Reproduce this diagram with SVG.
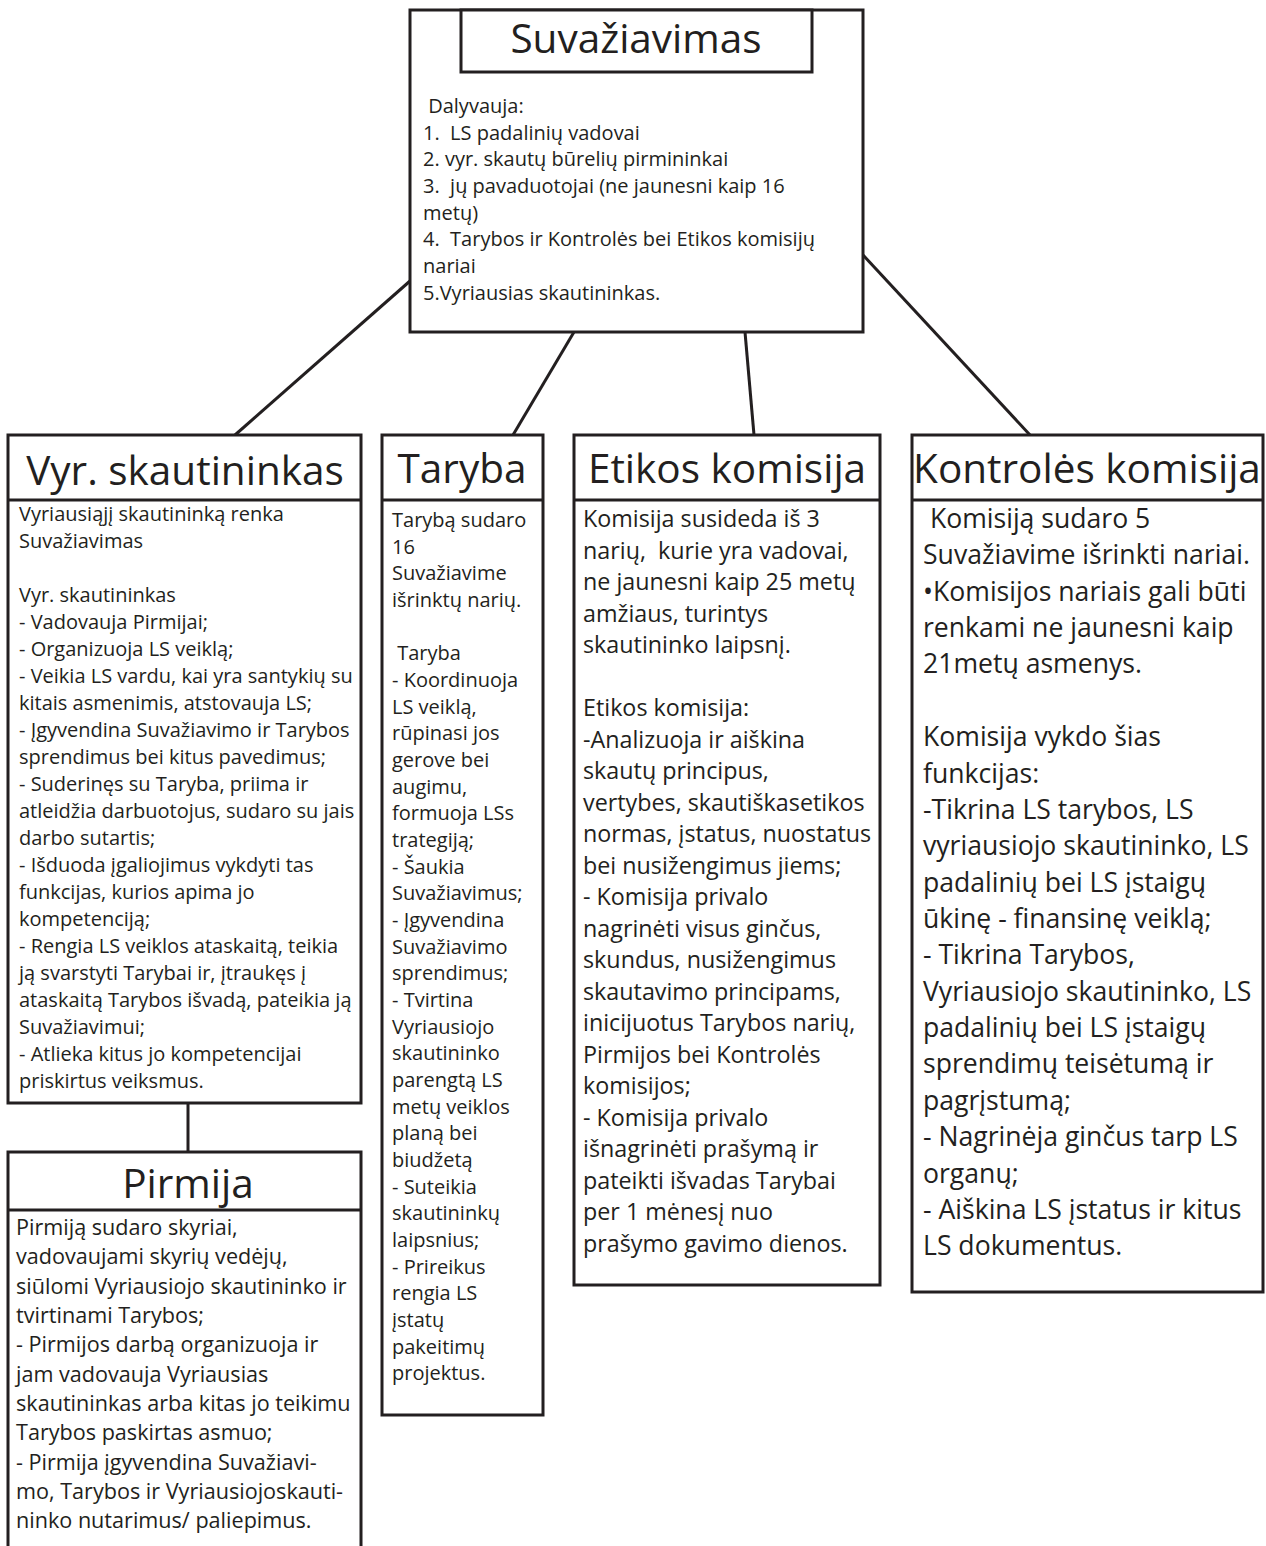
<svg xmlns="http://www.w3.org/2000/svg" width="1266" height="1546" viewBox="0 0 1266 1546">
<style>
.box{fill:#fff;stroke:#231f20;stroke-width:3}
.ln{fill:none;stroke:#231f20;stroke-width:3}
.t{font-family:"Open Sans","Liberation Sans",sans-serif;fill:#231f20}
.title{font-size:40.5px;text-anchor:middle}
.b20{font-size:20px}
.b21{font-size:21.6px}
.b23{font-size:23.3px}
.b26{font-size:26.6px}
</style>
<rect width="1266" height="1546" fill="#fff"/>
<g id="connectors">
<line class="ln" x1="410" y1="281" x2="235" y2="435"/>
<line class="ln" x1="574" y1="332" x2="513" y2="435"/>
<line class="ln" x1="745" y1="332" x2="754" y2="435"/>
<line class="ln" x1="863" y1="255" x2="1030" y2="435"/>
<line class="ln" x1="188" y1="1103" x2="188" y2="1152"/>
</g>
<g id="suvaziavimas">
<rect class="box" x="410" y="10" width="453" height="322"/>
<rect class="box" x="461" y="10" width="351" height="62"/>
<text class="t title" x="636" y="53">Suvažiavimas</text>
<text class="t b20" xml:space="preserve"><tspan x="423" y="113"> Dalyvauja:</tspan><tspan x="423" y="140">1.  LS padalinių vadovai</tspan><tspan x="423" y="166">2. vyr. skautų būrelių pirmininkai</tspan><tspan x="423" y="193">3.  jų pavaduotojai (ne jaunesni kaip 16</tspan><tspan x="423" y="220">metų)</tspan><tspan x="423" y="246">4.  Tarybos ir Kontrolės bei Etikos komisijų</tspan><tspan x="423" y="273">nariai</tspan><tspan x="423" y="300">5.Vyriausias skautininkas.</tspan></text>
</g>
<g id="vyr-skautininkas">
<rect class="box" x="8" y="435" width="353" height="668"/>
<line class="ln" x1="8" y1="500" x2="361" y2="500"/>
<text class="t title" x="185" y="485">Vyr. skautininkas</text>
<text class="t b20"><tspan x="19" y="521">Vyriausiąjį skautininką renka</tspan><tspan x="19" y="548">Suvažiavimas</tspan><tspan x="19" y="602">Vyr. skautininkas</tspan><tspan x="19" y="629">- Vadovauja Pirmijai;</tspan><tspan x="19" y="656">- Organizuoja LS veiklą;</tspan><tspan x="19" y="683">- Veikia LS vardu, kai yra santykių su</tspan><tspan x="19" y="710">kitais asmenimis, atstovauja LS;</tspan><tspan x="19" y="737">- Įgyvendina Suvažiavimo ir Tarybos</tspan><tspan x="19" y="764">sprendimus bei kitus pavedimus;</tspan><tspan x="19" y="791">- Suderinęs su Taryba, priima ir</tspan><tspan x="19" y="818">atleidžia darbuotojus, sudaro su jais</tspan><tspan x="19" y="845">darbo sutartis;</tspan><tspan x="19" y="872">- Išduoda įgaliojimus vykdyti tas</tspan><tspan x="19" y="899">funkcijas, kurios apima jo</tspan><tspan x="19" y="926">kompetenciją;</tspan><tspan x="19" y="953">- Rengia LS veiklos ataskaitą, teikia</tspan><tspan x="19" y="980">ją svarstyti Tarybai ir, įtraukęs į</tspan><tspan x="19" y="1007">ataskaitą Tarybos išvadą, pateikia ją</tspan><tspan x="19" y="1034">Suvažiavimui;</tspan><tspan x="19" y="1061">- Atlieka kitus jo kompetencijai</tspan><tspan x="19" y="1088">priskirtus veiksmus.</tspan></text>
</g>
<g id="pirmija">
<path class="box" d="M8,1547 V1152 H361 V1547"/>
<line class="ln" x1="8" y1="1210" x2="361" y2="1210"/>
<text class="t title" x="188" y="1198">Pirmija</text>
<text class="t b21"><tspan x="16" y="1235">Pirmiją sudaro skyriai,</tspan><tspan x="16" y="1264">vadovaujami skyrių vedėjų,</tspan><tspan x="16" y="1294">siūlomi Vyriausiojo skautininko ir</tspan><tspan x="16" y="1323">tvirtinami Tarybos;</tspan><tspan x="16" y="1352">- Pirmijos darbą organizuoja ir</tspan><tspan x="16" y="1382">jam vadovauja Vyriausias</tspan><tspan x="16" y="1411">skautininkas arba kitas jo teikimu</tspan><tspan x="16" y="1440">Tarybos paskirtas asmuo;</tspan><tspan x="16" y="1470">- Pirmija įgyvendina Suvažiavi-</tspan><tspan x="16" y="1499">mo, Tarybos ir Vyriausiojoskauti-</tspan><tspan x="16" y="1528">ninko nutarimus/ paliepimus.</tspan></text>
</g>
<g id="taryba">
<rect class="box" x="382" y="435" width="161" height="980"/>
<line class="ln" x1="382" y1="500" x2="543" y2="500"/>
<text class="t title" x="462" y="483">Taryba</text>
<text class="t b20" xml:space="preserve"><tspan x="392" y="527">Tarybą sudaro</tspan><tspan x="392" y="554">16</tspan><tspan x="392" y="580">Suvažiavime</tspan><tspan x="392" y="607">išrinktų narių.</tspan><tspan x="392" y="660"> Taryba</tspan><tspan x="392" y="687">- Koordinuoja</tspan><tspan x="392" y="714">LS veiklą,</tspan><tspan x="392" y="740">rūpinasi jos</tspan><tspan x="392" y="767">gerove bei</tspan><tspan x="392" y="794">augimu,</tspan><tspan x="392" y="820">formuoja LSs</tspan><tspan x="392" y="847">trategiją;</tspan><tspan x="392" y="874">- Šaukia</tspan><tspan x="392" y="900">Suvažiavimus;</tspan><tspan x="392" y="927">- Įgyvendina</tspan><tspan x="392" y="954">Suvažiavimo</tspan><tspan x="392" y="980">sprendimus;</tspan><tspan x="392" y="1007">- Tvirtina</tspan><tspan x="392" y="1034">Vyriausiojo</tspan><tspan x="392" y="1060">skautininko</tspan><tspan x="392" y="1087">parengtą LS</tspan><tspan x="392" y="1114">metų veiklos</tspan><tspan x="392" y="1140">planą bei</tspan><tspan x="392" y="1167">biudžetą</tspan><tspan x="392" y="1194">- Suteikia</tspan><tspan x="392" y="1220">skautininkų</tspan><tspan x="392" y="1247">laipsnius;</tspan><tspan x="392" y="1274">- Prireikus</tspan><tspan x="392" y="1300">rengia LS</tspan><tspan x="392" y="1327">įstatų</tspan><tspan x="392" y="1354">pakeitimų</tspan><tspan x="392" y="1380">projektus.</tspan></text>
</g>
<g id="etikos-komisija">
<rect class="box" x="574" y="435" width="306" height="850"/>
<line class="ln" x1="574" y1="500" x2="880" y2="500"/>
<text class="t title" x="727" y="483">Etikos komisija</text>
<text class="t b23" xml:space="preserve"><tspan x="583" y="527">Komisija susideda iš 3</tspan><tspan x="583" y="558.5">narių,  kurie yra vadovai,</tspan><tspan x="583" y="590">ne jaunesni kaip 25 metų</tspan><tspan x="583" y="621.5">amžiaus, turintys</tspan><tspan x="583" y="653">skautininko laipsnį.</tspan><tspan x="583" y="716">Etikos komisija:</tspan><tspan x="583" y="747.5">-Analizuoja ir aiškina</tspan><tspan x="583" y="779">skautų principus,</tspan><tspan x="583" y="810.5">vertybes, skautiškasetikos</tspan><tspan x="583" y="842">normas, įstatus, nuostatus</tspan><tspan x="583" y="873.5">bei nusižengimus jiems;</tspan><tspan x="583" y="905">- Komisija privalo</tspan><tspan x="583" y="936.5">nagrinėti visus ginčus,</tspan><tspan x="583" y="968">skundus, nusižengimus</tspan><tspan x="583" y="999.5">skautavimo principams,</tspan><tspan x="583" y="1031">inicijuotus Tarybos narių,</tspan><tspan x="583" y="1062.5">Pirmijos bei Kontrolės</tspan><tspan x="583" y="1094">komisijos;</tspan><tspan x="583" y="1125.5">- Komisija privalo</tspan><tspan x="583" y="1157">išnagrinėti prašymą ir</tspan><tspan x="583" y="1188.5">pateikti išvadas Tarybai</tspan><tspan x="583" y="1220">per 1 mėnesį nuo</tspan><tspan x="583" y="1251.5">prašymo gavimo dienos.</tspan></text>
</g>
<g id="kontroles-komisija">
<rect class="box" x="912" y="435" width="351" height="857"/>
<line class="ln" x1="912" y1="500" x2="1263" y2="500"/>
<text class="t title" x="1087" y="483">Kontrolės komisija</text>
<text class="t b26" xml:space="preserve"><tspan x="923" y="528"> Komisiją sudaro 5</tspan><tspan x="923" y="564.4">Suvažiavime išrinkti nariai.</tspan><tspan x="923" y="600.7">•Komisijos nariais gali būti</tspan><tspan x="923" y="637.1">renkami ne jaunesni kaip</tspan><tspan x="923" y="673.4">21metų asmenys.</tspan><tspan x="923" y="746.2">Komisija vykdo šias</tspan><tspan x="923" y="782.5">funkcijas:</tspan><tspan x="923" y="818.9">-Tikrina LS tarybos, LS</tspan><tspan x="923" y="855.2">vyriausiojo skautininko, LS</tspan><tspan x="923" y="891.6">padalinių bei LS įstaigų</tspan><tspan x="923" y="928">ūkinę - finansinę veiklą;</tspan><tspan x="923" y="964.3">- Tikrina Tarybos,</tspan><tspan x="923" y="1000.7">Vyriausiojo skautininko, LS</tspan><tspan x="923" y="1037">padalinių bei LS įstaigų</tspan><tspan x="923" y="1073.4">sprendimų teisėtumą ir</tspan><tspan x="923" y="1109.8">pagrįstumą;</tspan><tspan x="923" y="1146.1">- Nagrinėja ginčus tarp LS</tspan><tspan x="923" y="1182.5">organų;</tspan><tspan x="923" y="1218.8">- Aiškina LS įstatus ir kitus</tspan><tspan x="923" y="1255.2">LS dokumentus.</tspan></text>
</g>
</svg>
